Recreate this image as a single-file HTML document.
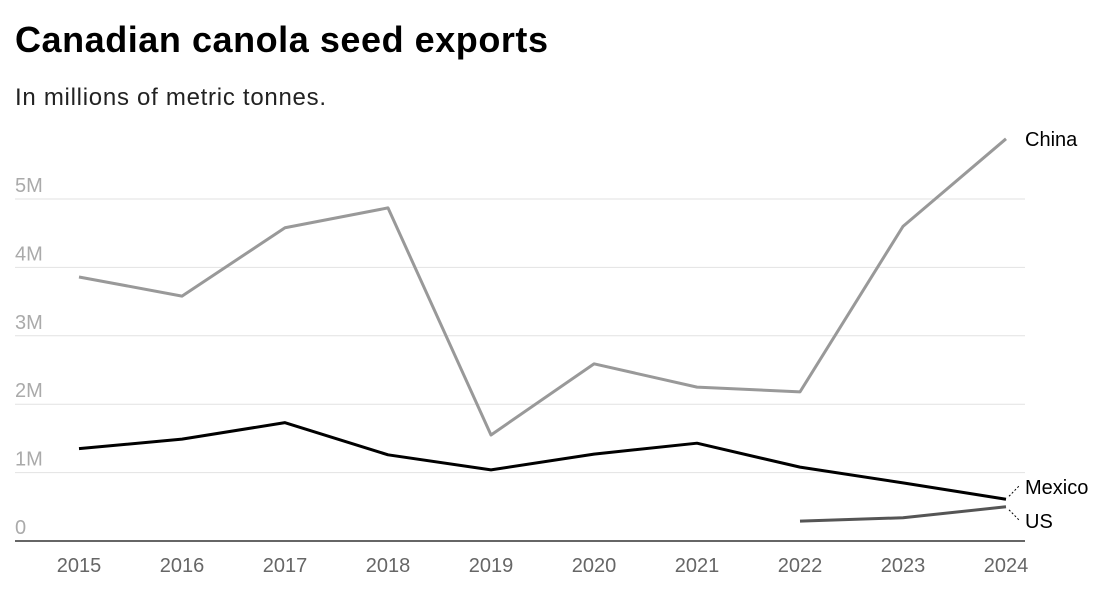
<!DOCTYPE html>
<html><head><meta charset="utf-8"><style>
body{margin:0;background:#fff;font-family:"Liberation Sans",sans-serif;}
</style></head><body>
<svg width="1110" height="602" xmlns="http://www.w3.org/2000/svg">
<text x="15" y="52" font-size="36" font-weight="bold" fill="#000" textLength="533">Canadian canola seed exports</text>
<text x="15" y="105" font-size="24" fill="#222" textLength="311">In millions of metric tonnes.</text>
<g id="grid"></g><g id="lines"></g><g id="labels"></g>
</svg>
<script>
const years=[2015,2016,2017,2018,2019,2020,2021,2022,2023,2024];
const china=[3.86,3.58,4.58,4.87,1.55,2.59,2.25,2.18,4.6,5.88];
const mexico=[1.35,1.49,1.73,1.26,1.04,1.27,1.43,1.08,0.85,0.61];
const usYears=[2022,2023,2024];
const us=[0.29,0.34,0.50];
const yTicks=[0,1,2,3,4,5];
const yTickLabels=["0","1M","2M","3M","4M","5M"];
const NS="http://www.w3.org/2000/svg";
const x=v=>79+(v-2015)*(1006-79)/9;
const y=v=>541-v*68.4;
function el(tag,attrs,parent){const e=document.createElementNS(NS,tag);for(const k in attrs)e.setAttribute(k,attrs[k]);document.getElementById(parent).appendChild(e);return e;}
yTicks.forEach((t,i)=>{
 if(t>0){const g=el('line',{x1:15,x2:1025,y1:y(t),y2:y(t),stroke:'#e2e2e2','stroke-width':1},'grid');
 
 }
 const tx=el('text',{x:15,y:y(t)-7,'font-size':20,fill:'#aaa'},'grid');tx.textContent=yTickLabels[i];
 
 
});
const ax=el('line',{x1:15,x2:1025,y1:541,y2:541,stroke:'#333','stroke-width':1.5},'grid');


years.forEach(yr=>{const t=el('text',{x:x(yr),y:572,'font-size':20,fill:'#666','text-anchor':'middle'},'grid');t.textContent=yr;
 
 });
function line(xs,vs,color,name){const p=el('polyline',{points:xs.map((d,i)=>x(d)+','+y(vs[i])).join(' '),fill:'none',stroke:color,'stroke-width':3,'stroke-linejoin':'round'},'lines');
 
 }
line(years,china,'#999','china-line');
line(years,mexico,'#000','mexico-line');
line(usYears,us,'#555','us-line');
const cl=el('text',{x:1025,y:y(china[9])+7,'font-size':20,fill:'#000'},'labels');cl.textContent='China';


const ml=el('text',{x:1025,y:494,'font-size':20,fill:'#000'},'labels');ml.textContent='Mexico';


const ul=el('text',{x:1025,y:528,'font-size':20,fill:'#000'},'labels');ul.textContent='US';


const c1=el('line',{x1:x(2024)+3,y1:y(mexico[9])-3,x2:1020,y2:485,stroke:'#000','stroke-dasharray':'2,2'},'labels');


const c2=el('line',{x1:x(2024)+3,y1:y(us[2])+3,x2:1020,y2:521,stroke:'#000','stroke-dasharray':'2,2'},'labels');


</script>
</body></html>
